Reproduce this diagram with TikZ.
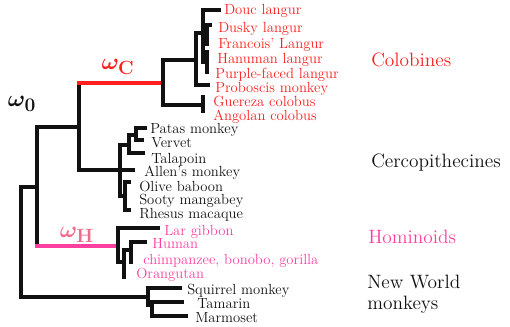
\documentclass[tikz,border=0pt]{standalone}
\usepackage{amsmath,bm}
\definecolor{cred}{HTML}{FF1F1F}
\definecolor{cpink}{HTML}{FF3FA0}
\definecolor{cpinkw}{HTML}{F06A8C}
\definecolor{ink}{HTML}{111111}
\begin{document}
\begin{tikzpicture}[x=0.75pt,y=-0.75pt,
  br/.style={line width=2.6pt, line cap=rect, line join=miter, draw=ink},
  leaf/.style={anchor=base west, inner sep=0pt, font=\fontsize{11}{12}\selectfont, text=ink},
  grp/.style={anchor=base west, inner sep=0pt, font=\fontsize{14.5}{17}\selectfont, text=ink},
  om/.style={inner sep=0pt, font=\fontsize{19}{21}\selectfont}]
\useasboundingbox (0,0) rectangle (510,326);
% internal nodes
\coordinate (R) at (21,240);
\coordinate (O) at (37,187);
\coordinate (NW) at (148,297);
\coordinate (M) at (79,127);
\coordinate (H1) at (118,246);
\coordinate (A) at (163,83);
\coordinate (Cer) at (120,170);
\coordinate (B) at (196,60);
\coordinate (GA) at (203,105);
\coordinate (C) at (203,33);
\coordinate (D1) at (207,33);
\coordinate (D2) at (207,62);
\coordinate (P) at (129,145);
\coordinate (Q) at (136,135);
\coordinate (Bab) at (125,196);
\coordinate (H2) at (124,262);
\coordinate (H3) at (131,250);
\coordinate (N2) at (152,305);
% leaf ends
\coordinate (eDouc) at (219,10);
\coordinate (eDusky) at (210,25);
\coordinate (eProb) at (208,85);
\coordinate (eAllen) at (133,170);
\coordinate (ePatas) at (145,128);
\coordinate (eVervet) at (142,140);
\coordinate (eTal) at (143,153);
\coordinate (eOlive) at (129,182);
\coordinate (eRhesus) at (129,210);
\coordinate (eLar) at (158,228);
\coordinate (eHuman) at (145,242);
\coordinate (eSq) at (180,288);
\coordinate (eTam) at (182,302);
\coordinate (eMar) at (186,316);
% branches
\draw[br] (O) -| (R) |- (NW);
\draw[br] (M) -| (O) -- (O|-H1);
\draw[br, draw=cpink] (O|-H1) -- (H1);
\draw[br] (M|-A) -- (M) (M) |- (Cer);
\draw[br, draw=cred] (M|-A) -- (A);
\draw[br] (B) -| (A) |- (GA);
\draw[br] (203,97) -- (203,111);
\draw[br] (C) -| (B) |- (eProb);
\draw[br] (eDouc) -| (C) |- (D2);
\draw[br] (C) -- (D1);
\draw[br] (eDusky) -| (D1) -- (207,44);
\draw[br] (207,52) -- (207,72);
\draw[br] (P) -| (Cer) |- (Bab);
\draw[br] (Cer) -- (eAllen);
\draw[br] (Q) -| (P) |- (eTal);
\draw[br] (ePatas) -| (Q) |- (eVervet);
\draw[br] (eOlive) -| (Bab) |- (eRhesus);
\draw[br] (eLar) -| (H1) |- (H2);
\draw[br] (H3) -| (H2) -- (124,277);
\draw[br] (eHuman) -| (H3) -- (131,262);
\draw[br] (eSq) -| (NW) |- (N2);
\draw[br] (eTam) -| (N2) |- (eMar);
% omega labels
\node[om, text=ink] (w0) at (22,104) {$\bm{\omega}_{\mathbf{0}}$};
\node[om, text=cred] (wC) at (118,67) {$\bm{\omega}_{\mathbf{C}}$};
\node[om, text=cpinkw] (wH) at (77,235) {$\bm{\omega}_{\mathbf{H}}$};
% colobines
\node[leaf, text=cred] (lDouc) at (224,14) {Douc langur};
\node[leaf, text=cred] (lDusky) at (218,32) {Dusky langur};
\node[leaf, text=cred] (lFran) at (218,48) {Francois' Langur};
\node[leaf, text=cred] (lHan) at (217,63) {Hanuman langur};
\node[leaf, text=cred] (lPur) at (215,78) {Purple-faced langur};
\node[leaf, text=cred] (lProb) at (215,92) {Proboscis monkey};
\node[leaf, text=cred] (lGue) at (213,106) {Guereza colobus};
\node[leaf, text=cred] (lAng) at (213,120) {Angolan colobus};
% cercopithecines
\node[leaf] (lPatas) at (150,133) {Patas monkey};
\node[leaf] (lVer) at (151,147) {Vervet};
\node[leaf] (lTal) at (151,163) {Talapoin};
\node[leaf] (lAllen) at (144,176) {Allen's monkey};
\node[leaf] (lOlive) at (139,191) {Olive baboon};
\node[leaf] (lSooty) at (139,204) {Sooty mangabey};
\node[leaf] (lRhesus) at (139,218) {Rhesus macaque};
% hominoids
\node[leaf, text=cpink] (lLar) at (164,235) {Lar gibbon};
\node[leaf, text=cpink] (lHuman) at (152,248) {Human};
\node[leaf, text=cpink] (lChimp) at (143,264) {chimpanzee, bonobo, gorilla};
\node[leaf, text=cpink] (lOrang) at (136,278) {Orangutan};
% new world
\node[leaf] (lSq) at (187,294) {Squirrel monkey};
\node[leaf] (lTam) at (197,308) {Tamarin};
\node[leaf] (lMar) at (195,322) {Marmoset};
% groups
\node[grp, text=cred] (gCol) at (371,66) {Colobines};
\node[grp] (gCer) at (371,167) {Cercopithecines};
\node[grp, text=cpink] (gHom) at (368,243) {Hominoids};
\node[grp] (gNW1) at (367,288) {New World};
\node[grp] (gNW2) at (367,309) {monkeys};
\end{tikzpicture}
\end{document}
